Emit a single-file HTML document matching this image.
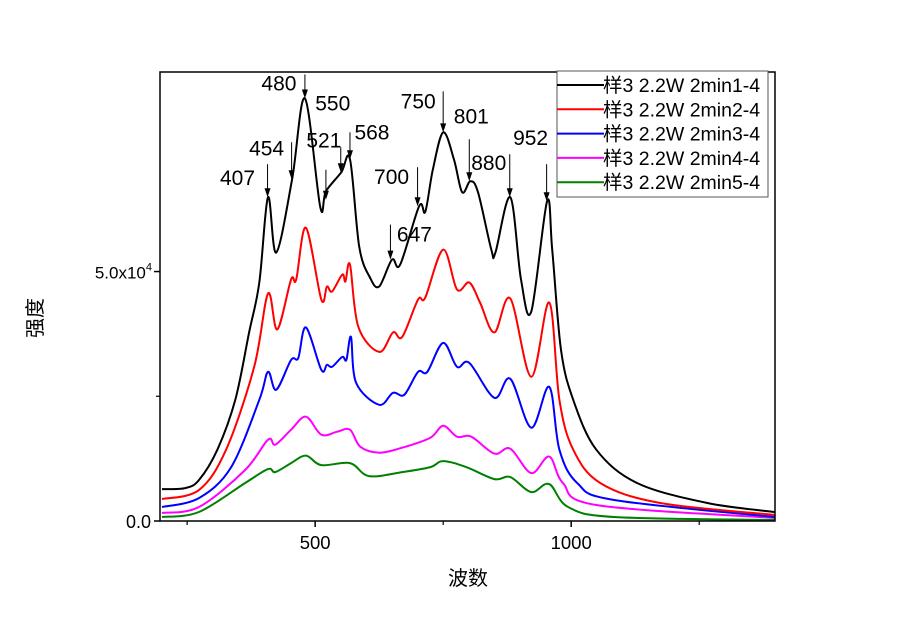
<!DOCTYPE html>
<html><head><meta charset="utf-8"><style>
html,body{margin:0;padding:0;background:#fff;}
svg{display:block;font-family:"Liberation Sans","Noto Sans CJK SC",sans-serif;}
</style></head><body>
<svg id="chart" width="900" height="626" viewBox="0 0 900 626">
<g id="series"></g>
<rect x="160" y="72" width="615" height="449" fill="none" stroke="#000" stroke-width="1.5"/>
<g id="axes"></g>
<g id="annots"></g>
<text x="468" y="585" font-size="20" text-anchor="middle">波数</text>
<text transform="translate(42,318) rotate(-90)" font-size="20" text-anchor="middle">强度</text>
<g id="legend"></g>
</svg>
<script>
const xMin=197,xMax=1398,yMin=0,yMax=90000;
const L=160,R=775,T=72,B=521;
function X(v){return L+(v-xMin)/(xMax-xMin)*(R-L);}
function Y(v){return B-(v-yMin)/(yMax-yMin)*(B-T);}
const seriesNames=["样3 2.2W 2min1-4","样3 2.2W 2min2-4","样3 2.2W 2min3-4","样3 2.2W 2min4-4","样3 2.2W 2min5-4"];
const seriesColors=["#000000","#ff0000","#0000ff","#ff00ff","#008000"];
const wn1=[201,246,273,309,344,371,391,408,424,455,480,510,521,551,568,586,607,625,650,666,703,715,730,750,771,787,803,818,844,852,881,902,922,953,963,980,1004,1049,1129,1266,1398];
const in1=[6400,6600,8200,14300,24300,37800,47800,64900,53800,68500,84700,62900,66100,69900,72500,55000,48800,47000,52400,51400,63100,62000,70500,77900,72500,65900,68100,65900,54400,53800,64900,48400,42000,64100,54400,34300,24300,14300,7600,3600,1800];
const wn2=[201,273,326,381,408,426,453,463,482,512,523,533,553,559,568,584,625,652,670,701,715,750,777,801,822,850,881,922,957,977,1004,1057,1174,1398];
const in2=[4400,6200,14300,30900,45600,38400,48400,48400,58800,44400,47000,46000,49400,48000,51400,39000,33900,37800,36900,44400,44800,54400,46400,47800,43800,37800,44600,28900,43800,24300,14300,7600,3600,1200];
const wn3=[201,273,336,391,408,424,453,467,482,512,523,533,553,561,570,580,625,652,674,701,719,750,777,801,850,881,922,957,977,1012,1084,1398];
const in3=[2800,4600,10800,24300,29900,26300,32300,32700,38800,30300,31300,30900,32900,32300,36900,27700,23300,25700,25300,29900,29900,35700,30900,31700,24700,28500,18700,26900,14300,7600,4200,800];
const wn4=[201,273,363,408,422,453,482,512,543,568,588,625,670,725,750,777,805,850,881,922,957,984,1049,1398];
const in4=[1600,2800,10200,16300,15300,18300,20900,17300,17900,18300,14900,13700,14700,16700,19100,16900,16900,13500,14500,9600,12900,7600,3200,600];
const wn5=[201,273,363,408,422,453,482,512,568,605,670,725,750,795,850,881,922,957,994,1084,1398];
const in5=[800,1800,7600,10400,9800,11600,13100,11200,11600,9000,9800,10800,12000,10800,8400,8800,5800,7400,2800,800,200];
const xTicks=[500,1000];
const xTickLabels=["500","1000"];
const xMinor=[250,750,1250];
const yTicks=[0,50000];
const yMinor=[25000];
const peakLabels=["407","454","480","521","550","568","647","700","750","801","880","952"];
const peakWn=[407,454,480,521,550,568,647,700,750,801,880,952];
const peakInt=[64900,68500,84700,64400,69900,72500,52400,63100,77900,68100,64900,64100];
const NS="http://www.w3.org/2000/svg";
function mk(t,a,p){const e=document.createElementNS(NS,t);for(const k in a)e.setAttribute(k,a[k]);p.appendChild(e);return e;}
function pathFor(w,v){
  const p=w.map((x,i)=>[X(x),Y(v[i])]);
  let d="M"+p[0][0].toFixed(1)+","+p[0][1].toFixed(1);
  for(let i=0;i<p.length-1;i++){
    const p0=p[Math.max(0,i-1)],p1=p[i],p2=p[i+1],p3=p[Math.min(p.length-1,i+2)];
    const c1x=p1[0]+(p2[0]-p0[0])/6,c1y=p1[1]+(p2[1]-p0[1])/6;
    const c2x=p2[0]-(p3[0]-p1[0])/6,c2y=p2[1]-(p3[1]-p1[1])/6;
    d+=" C"+c1x.toFixed(1)+","+c1y.toFixed(1)+" "+c2x.toFixed(1)+","+c2y.toFixed(1)+" "+p2[0].toFixed(1)+","+p2[1].toFixed(1);
  }
  return d;
}
const sg=document.getElementById('series');
const allW=[wn5,wn4,wn3,wn2,wn1],allI=[in5,in4,in3,in2,in1];
for(let k=0;k<5;k++){
  const idx=4-k;
  const el=mk('path',{d:pathFor(allW[k],allI[k]),fill:'none',stroke:seriesColors[idx],'stroke-width':2,'stroke-linejoin':'round'},sg);
  
  
}
const ax=document.getElementById('axes');
xTicks.forEach((t,i)=>{
  const l=mk('line',{x1:X(t),x2:X(t),y1:B,y2:B+6,stroke:'#000','stroke-width':1.5},ax);
  
  
  const tx=mk('text',{x:X(t),y:B+28,'font-size':18.5,'text-anchor':'middle'},ax);
  tx.textContent=xTickLabels[i];
  
  
});
xMinor.forEach(t=>{
  const l=mk('line',{x1:X(t),x2:X(t),y1:B,y2:B+4,stroke:'#000','stroke-width':1.2},ax);
  
  
});
yTicks.forEach(t=>{
  const l=mk('line',{x1:L-6,x2:L,y1:Y(t),y2:Y(t),stroke:'#000','stroke-width':1.5},ax);
  
  
});
yMinor.forEach(t=>{
  const l=mk('line',{x1:L-4,x2:L,y1:Y(t),y2:Y(t),stroke:'#000','stroke-width':1.2},ax);
  
  
});
const y0=mk('text',{x:L-9,y:Y(0)+7,'font-size':18,'text-anchor':'end'},ax);
y0.textContent="0.0";


const y5=mk('text',{x:L-8,y:Y(50000)+7,'font-size':17,'text-anchor':'end'},ax);
y5.innerHTML='5.0x10<tspan font-size="11" dy="-8">4</tspan>';


const an=document.getElementById('annots');
const arrowLen=[33,37,24,30,25,27,35,39,41,42,43,37];
const labelDx=[-30,-25,-26,-2,-8,22,24,-26,-25,2,-21,-16];
const labelDy=[-12,-24,-8,-52,-62,-20,-18,-22,-24,-58,-27,-56];
peakWn.forEach((w,i)=>{
  const x=X(w),y=Y(peakInt[i]);
  const l=mk('line',{x1:x,y1:y-arrowLen[i],x2:x,y2:y-7,stroke:'#000','stroke-width':1},an);
  
  
  const h=mk('path',{d:'M'+(x-3)+','+(y-9)+' L'+(x+3)+','+(y-9)+' L'+x+','+y+' Z',fill:'#000'},an);
  
  
  const t=mk('text',{x:x+labelDx[i],y:y+labelDy[i],'font-size':21,'text-anchor':'middle'},an);
  t.textContent=peakLabels[i];
  
  
});
const lg=document.getElementById('legend');
const box=mk('rect',{x:557,y:71,width:211,height:126,fill:'#fff',stroke:'#555','stroke-width':1},lg);


seriesNames.forEach((n,i)=>{
  const yy=85+i*24.3;
  const l=mk('line',{x1:557,x2:604,y1:yy,y2:yy,stroke:seriesColors[i],'stroke-width':2},lg);
  
  
  const t=mk('text',{x:603,y:yy+7,'font-size':19.5},lg);
  t.textContent=n;
  
  
});
</script>
</body></html>
